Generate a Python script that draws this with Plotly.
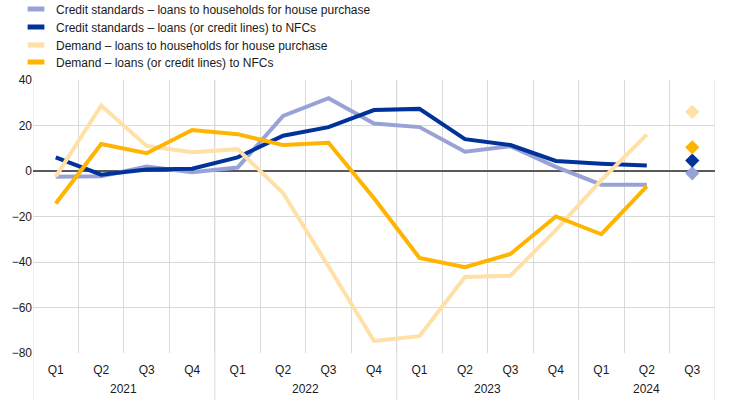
import plotly.graph_objects as go

years = ['2021'] * 4 + ['2022'] * 4 + ['2023'] * 4 + ['2024'] * 3
quarters = ['Q1', 'Q2', 'Q3', 'Q4'] * 3 + ['Q1', 'Q2', 'Q3']
year_labels = ['2021', '2022', '2023', '2024']

names = [
    'Credit standards \u2013 loans to households for house purchase',
    'Credit standards \u2013 loans (or credit lines) to NFCs',
    'Demand \u2013 loans to households for house purchase',
    'Demand \u2013 loans (or credit lines) to NFCs',
]
colors = ['#99A2D6', '#003299', '#FFE0A6', '#FFB400']

# Realised values Q1 2021 - Q2 2024
cs_households = [-2.5, -2.3, 2.0, -0.5, 1.5, 24.2, 32.0, 20.9, 19.3, 8.5, 10.9, 1.8, -6.0, -6.0]
cs_nfcs = [6.0, -1.6, 0.7, 1.0, 6.0, 15.5, 19.3, 26.8, 27.3, 14.0, 11.4, 4.4, 3.2, 2.4]
dem_households = [-2.5, 28.8, 11.0, 8.2, 9.6, -9.7, -42.0, -74.7, -72.6, -46.6, -46.0, -26.0, -4.0, 16.0]
dem_nfcs = [-14.3, 11.9, 7.8, 18.0, 16.2, 11.4, 12.4, -12.0, -38.2, -42.3, -36.5, -20.0, -27.8, -6.8]
# Expectations Q3 2024
expected = [-1.0, 4.6, 26.0, 10.4]

series = [cs_households, cs_nfcs, dem_households, dem_nfcs]

W, H = 744, 404
PLOT_H = 404 - 80 - 51
pos = list(range(len(quarters)))  # category slots on the x axis
n = len(cs_households)

fig = go.Figure()
for name, col, vals in zip(names, colors, series):
    fig.add_trace(go.Scatter(
        x=pos[:n], y=vals, mode='lines',
        line=dict(color=col, width=4), showlegend=False, hoverinfo='skip'))
for name, col, val in zip(names, colors, expected):
    fig.add_trace(go.Scatter(
        x=pos[n:], y=[val], mode='markers',
        marker=dict(symbol='diamond', size=11, color=col), showlegend=False))

legend_rows = [9, 27, 45, 62]
legend_ids = ['legend', 'legend2', 'legend3', 'legend4']
layout_legends = {}
for name, col, lid, row in zip(names, colors, legend_ids, legend_rows):
    fig.add_trace(go.Scatter(
        x=[None], y=[None], mode='markers', name=name, legend=lid,
        marker=dict(symbol='line-ew', size=12, line=dict(color=col, width=5))))
    layout_legends[lid] = dict(x=16 / W, y=1 - row / H, xref='container', yref='container',
                               xanchor='left', yanchor='middle', orientation='v',
                               bgcolor='rgba(0,0,0,0)', itemwidth=30,
                               font=dict(size=12, color='#1a1a1a'))

# year labels and year dividers derived from the category list
annotations = []
shapes = []
bounds = [-0.5]
for y in year_labels:
    idx = [i for i, v in enumerate(years) if v == y]
    annotations.append(dict(x=sum(idx) / len(idx), y=-36 / PLOT_H, xref='x', yref='paper',
                            text=y, showarrow=False, yanchor='middle',
                            font=dict(size=12, color='#1a1a1a')))
    bounds.append(idx[-1] + 0.5)
for b in bounds:
    shapes.append(dict(type='line', xref='x', yref='paper', x0=b, x1=b,
                       y0=-47 / PLOT_H, y1=1, line=dict(color='#D9D9D9', width=1), layer='below'))

fig.update_layout(
    width=W, height=H,
    margin=dict(l=33, r=29, t=80, b=51, autoexpand=False),
    paper_bgcolor='white', plot_bgcolor='white',
    font=dict(family='Arial, Liberation Sans, sans-serif', size=12, color='#1a1a1a'),
    xaxis=dict(range=[-0.5, len(quarters) - 0.5], tickmode='array', tickvals=pos, ticktext=quarters,
               showgrid=False, zeroline=False, showline=False, ticks='',
               ticklabelstandoff=8,
               minor=dict(tick0=-0.5, dtick=1, showgrid=True, gridcolor='#D9D9D9', gridwidth=1, ticks=''),
               tickfont=dict(size=12, color='#1a1a1a')),
    yaxis=dict(range=[-80, 40], dtick=20, showgrid=True, gridcolor='#D9D9D9',
               gridwidth=1, zeroline=True, zerolinecolor='#595959', zerolinewidth=1.5,
               showline=False, ticks='', tickfont=dict(size=12, color='#1a1a1a')),
    annotations=annotations,
    shapes=shapes,
    **layout_legends,
)
fig.write_html('out.html', config={'displayModeBar': False},
               post_script="document.body.style.margin='0';")
